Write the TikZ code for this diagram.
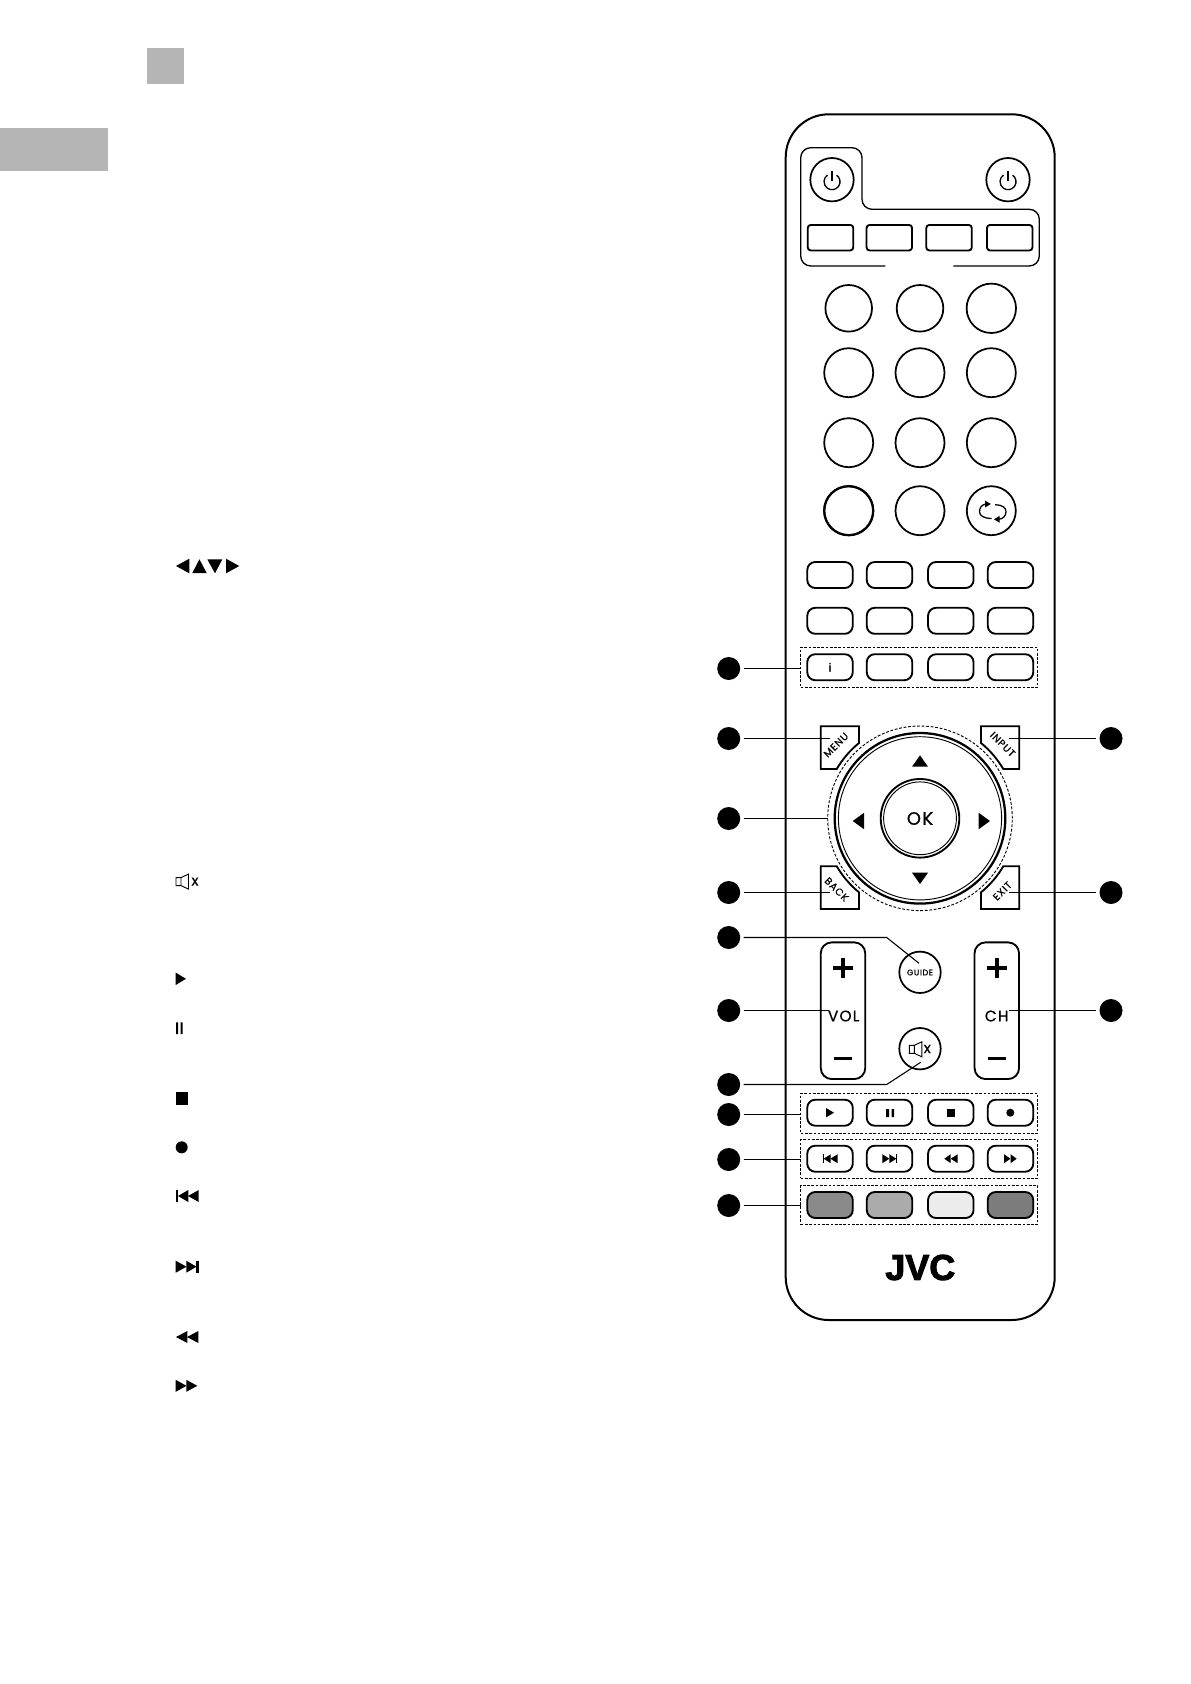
\documentclass[tikz,border=0pt]{standalone}
\usepackage{fontspec}
\usetikzlibrary{arrows.meta,calc}
\newfontfamily\rf{Poppins}[LetterSpace=8,FakeBold=0.7]
\newfontfamily\rfplain{Poppins}[FakeBold=0.4]
\newfontfamily\logofont{Liberation Sans Bold}[FakeBold=2.5]
\newdimen\pxu \pxu=0.75pt
\definecolor{tabgrey}{HTML}{B5B5B5}
\definecolor{c1}{HTML}{8A8A8A}
\definecolor{c2}{HTML}{ABABAB}
\definecolor{c3}{HTML}{ECECEC}
\definecolor{c4}{HTML}{7C7C7C}
\newcommand{\powicon}[2]{\draw[icon] ($(#1,#2)+(4.6,-6.55)$) arc[start angle=55,end angle=-235,radius=8\pxu];\draw[icon] (#1,#2-10.5) -- (#1,#2-0.5);}
\newcommand{\muteicon}[2]{\draw[icon,line width=0.7pt] (#1,#2-4) rectangle (#1+5,#2+4) (#1+5,#2-4) -- (#1+12.5,#2-7.5) -- (#1+12.5,#2+7.5) -- (#1+5,#2+4);}
\newcommand{\tri}[4]{\fill[glyph] (#1,#3-#4) -- (#2,#3) -- (#1,#3+#4) -- cycle;}
\tikzset{
  x=0.75pt,y=-0.75pt,
  body/.style={draw=black,line width=1.5pt,rounded corners=43\pxu},
  outl/.style={draw=black,line width=1pt},
  icon/.style={draw=black,line width=1pt},
  key/.style={draw=black,line width=1.4pt,rectangle,rounded corners=8\pxu,minimum width=45.5\pxu,minimum height=26\pxu,inner sep=0,outer sep=0},
  srckey/.style={key,rounded corners=3\pxu,minimum height=25.5\pxu},
  roundkey/.style={draw=black,line width=1.3pt,circle,inner sep=0,outer sep=0,minimum size=#1*2\pxu},
  dashbox/.style={draw=black,line width=0.75pt,dash pattern=on 2pt off 1.2pt,rectangle,inner sep=0,outer sep=0,minimum width=237\pxu},
  dot/.style={fill=black,circle,inner sep=0,minimum size=23\pxu,outer sep=3.3\pxu},
  lead/.style={draw=black,line width=0.8pt},
  lbl/.style={inner sep=0,outer sep=0},
  cornerkey/.style={draw=black,line width=1.4pt,line join=miter},
  rock/.style={draw=black,line width=1.4pt,rectangle,rounded corners=11\pxu,inner sep=0,outer sep=0,minimum width=44.5\pxu,minimum height=136.7\pxu},
  glyph/.style={fill=black},
}
\begin{document}
\begin{tikzpicture}
\useasboundingbox (0,0) rectangle (1191,1684);
% grey tabs
\fill[tabgrey] (147,48) rectangle (184,84);
\fill[tabgrey] (0,128) rectangle (108,171);
% remote body
\draw[body] (785.7,114.3) rectangle (1054.7,1320);
% power group outline
\draw[outl,rounded corners=10\pxu] (885.3,266) -- (800.7,266) -- (800.7,147.7) -- (862,147.7) -- (862,209.3) -- (1039.3,209.3) -- (1039.3,266) -- (953.3,266);
% power buttons
\node[roundkey=21.7] (pow1) at (832,179.7) {};
\node[roundkey=21.7] (pow2) at (1008,179.7) {};
\powicon{832}{181.7}
\powicon{1008}{181.7}
% source buttons
\foreach \n/\cx in {1/830.5,2/889.3,3/949,4/1009.7}{\node[srckey] (src\n) at (\cx,237.7) {};}
% digits
\node[roundkey=23.3] (r11) at (848.7,308.3) {};
\node[roundkey=23.3] (r12) at (920,308.3) {};
\node[roundkey=24.7] (r13) at (991.3,308.3) {};
\foreach \i/\yy in {2/372.7,3/442.7,4/510.7}{
  \node[roundkey=24.5] (r\i1) at (848.7,\yy) {};
  \node[roundkey=24.5] (r\i2) at (920,\yy) {};
  \node[roundkey=24.5] (r\i3) at (991.3,\yy) {};
}
\node[roundkey=24.5,line width=1.7pt] (r41b) at (848.7,510.7) {};
\draw[line width=0.95pt] (986,504) .. controls (981.5,504.5) and (979.5,508) .. (979.5,511.7) .. controls (979.5,516) and (984,518.3) .. (991.7,518.5);
\draw[line width=0.95pt] (995,504.8) .. controls (1003,504.8) and (1006,508) .. (1006,511.7) .. controls (1006,516) and (1003,519) .. (998.5,519.3);
\fill[glyph] (985,500.5) -- (990.8,504) -- (985,507.5) -- cycle;
\fill[glyph] (999.7,515.8) -- (994,519.3) -- (999.7,522.8) -- cycle;
% key rows
\foreach \rw/\yy in {a/575,b/620.8,c/667.2,d/1112.7,e/1158.7}{
  \foreach \n/\cx in {1/830,2/889.5,3/950.8,4/1010.5}{
    \node[key] (k\rw\n) at (\cx,\yy) {};
  }
}
\node[lbl,font=\rfplain\fontsize{8.5}{9}\selectfont] (itext) at (830,667.2) {i};
\foreach \n/\cx/\col in {1/830/c1,2/889.5/c2,3/950.8/c3,4/1010.5/c4}{
  \node[key,fill=\col] (kf\n) at (\cx,1205) {};
}
% dashed group boxes
\node[dashbox,minimum height=40\pxu] (boxinfo) at (919.2,667.3) {};
\node[dashbox,minimum height=40\pxu] (boxplay) at (919.2,1113.3) {};
\node[dashbox,minimum height=39\pxu] (boxskip) at (919.2,1158.8) {};
\node[dashbox,minimum height=38.6\pxu] (boxcolour) at (919.2,1205) {};
% corner keys
\draw[cornerkey] (820.7,726.3) -- (859,726.3) -- (859,743) .. controls (850,750.3) and (842.6,759.1) .. (836.7,769) -- (820.7,769) -- cycle;
\draw[cornerkey] (1019.3,726.3) -- (981,726.3) -- (981,743) .. controls (990,750.3) and (997.4,759.1) .. (1003.3,769) -- (1019.3,769) -- cycle;
\draw[cornerkey] (820.7,909) -- (859,909) -- (859,892.3) .. controls (850,885) and (842.6,876.2) .. (836.7,866.3) -- (820.7,866.3) -- cycle;
\draw[cornerkey] (1019.3,909) -- (981,909) -- (981,892.3) .. controls (990,885) and (997.4,876.2) .. (1003.3,866.3) -- (1019.3,866.3) -- cycle;
\node[lbl,rotate=45,font=\rf\fontsize{7.5}{8}\selectfont] (menu) at (836,745) {MENU};
\node[lbl,rotate=-45,font=\rf\fontsize{7.5}{8}\selectfont] (input) at (1002.7,744.3) {INPUT};
\node[lbl,rotate=-45,font=\rf\fontsize{7.5}{8}\selectfont] (back) at (836.7,889.3) {BACK};
\node[lbl,rotate=45,font=\rf\fontsize{7.5}{8}\selectfont] (exit) at (1002.3,891) {EXIT};
% navigation dial
\node[circle,draw=black,line width=0.7pt,dash pattern=on 2.1pt off 1.3pt,inner sep=0,outer sep=0,minimum size=184.6\pxu] (dialdash) at (920,818.3) {};
\node[roundkey=85.3,line width=1.7pt] (dialout) at (920,818.3) {};
\node[roundkey=81.6,line width=0.7pt] (dialin) at (920,818.3) {};
\node[roundkey=39.3,line width=1.4pt] (okout) at (920,818.3) {};
\node[roundkey=36.4,line width=0.7pt] (okin) at (920,818.3) {};
\node[lbl,font=\rf\fontsize{13.5}{14}\selectfont] (ok) at (920,818.5) {OK};
\fill[glyph] (912,766.7) -- (920,755.3) -- (928,766.7) -- cycle;
\fill[glyph] (912,872.7) -- (920,884) -- (928,872.7) -- cycle;
\tri{864}{852.7}{821}{8.2}
\tri{978.7}{990}{821}{8.2}
% rockers
\node[rock] (vol) at (843,1010.7) {};
\node[rock] (ch) at (996.8,1010.7) {};
\foreach \cx in {843,996.8}{
  \draw[line width=2.9pt] (\cx-10,968.3) -- (\cx+10,968.3) (\cx,958.3) -- (\cx,978.3);
  \draw[line width=2.3pt] (\cx-9,1058.3) -- (\cx+9,1058.3);
}
\node[lbl,font=\rf\fontsize{11.5}{12}\selectfont] (voltext) at (843.7,1016) {VOL};
\node[lbl,font=\rf\fontsize{11.5}{12}\selectfont] (chtext) at (996.7,1016) {CH};
% guide and mute
\node[roundkey=20.7] (guide) at (920,972.3) {};
\node[lbl,font=\rf\fontsize{6}{7}\selectfont] (guidetext) at (920,972.5) {GUIDE};
\node[roundkey=20.7] (mute) at (920,1048.7) {};
\muteicon{909.3}{1049.3}
\node[lbl,font=\rfplain\fontsize{11}{11}\selectfont] (mutex) at (927.3,1049) {x};
% transport glyphs on keys
\tri{826}{834}{1112.7}{4.7}
\fill[glyph] (886,1109) rectangle (889,1117) (891.5,1109) rectangle (894,1117);
\fill[glyph] (947,1109) rectangle (955,1117);
\fill[glyph] (1010.3,1112.7) circle[radius=3pt];
\fill[glyph] (823,1154.2) rectangle (824,1163.2);
\tri{830.7}{823.7}{1158.7}{4.5}
\tri{837.7}{830.3}{1158.7}{4.5}
\tri{882.3}{889.3}{1158.7}{4.5}
\tri{889.3}{896.3}{1158.7}{4.5}
\fill[glyph] (896,1154.2) rectangle (897,1163.2);
\tri{950.7}{944.3}{1158.7}{4.5}
\tri{957.7}{950.7}{1158.7}{4.5}
\tri{1004}{1010.5}{1158.7}{4.5}
\tri{1010.5}{1016.7}{1158.7}{4.5}
% logo
\node[lbl,font=\logofont\fontsize{27}{28}\selectfont] (logo) at (920.3,1267.5) {JVC};
% left legend glyphs
\tri{189.3}{176}{566}{7.3}
\fill[glyph] (192.3,573) -- (199.4,559.3) -- (206.7,573) -- cycle;
\fill[glyph] (207.3,559.3) -- (215,573.3) -- (222.3,559.3) -- cycle;
\tri{226}{239.3}{566}{7.3}
\muteicon{176}{881.6}
\node[lbl,font=\rfplain\fontsize{11}{11}\selectfont] (legendx) at (195,881.6) {x};
\tri{175.7}{186}{978.8}{6.2}
\fill[glyph] (176,1022.3) rectangle (178,1034) (180.5,1022.3) rectangle (182.5,1034);
\fill[glyph] (176,1092) rectangle (188,1105);
\fill[glyph] (181.7,1147.3) circle[radius=4.5pt];
\fill[glyph] (176,1190) rectangle (178.2,1202);
\tri{188.3}{178}{1196}{6}
\tri{198.7}{188}{1196}{6}
\tri{175.7}{186.5}{1266.7}{6}
\tri{186.3}{196.5}{1266.7}{6}
\fill[glyph] (196.3,1260.7) rectangle (199,1272.7);
\tri{187.3}{176}{1337}{6}
\tri{198.3}{187}{1337}{6}
\tri{175.7}{186.5}{1385.8}{6}
\tri{186.3}{197.3}{1385.8}{6}
% callouts
\foreach \n/\yy in {1/668.5,2/738.5,3/818.5,4/892.5,5/937.5,6/1010.5,7/1084.5,8/1114.5,9/1159.5,10/1205.5}{
  \node[dot] (dl\n) at (728.7,\yy) {};
}
\foreach \n/\yy in {1/738.5,2/892.5,3/1010.5}{
  \node[dot] (dr\n) at (1111,\yy) {};
}
\coordinate (endmenu) at (830,738.5);
\coordinate (endback) at (830,892.5);
\coordinate (endvol) at (829.3,1010.5);
\coordinate (endinput) at (1009.3,738.5);
\coordinate (endexit) at (1009.3,892.5);
\coordinate (endch) at (1009.3,1010.5);
\coordinate (bendguide) at (886.7,937.5);
\coordinate (endguide) at (919,963.3);
\coordinate (bendmute) at (886.7,1084.5);
\coordinate (endmute) at (920.7,1062.3);
\draw[lead] (dl1.east) -- (dl1.east -| boxinfo.west);
\draw[lead] (dl2.east) -- (endmenu);
\draw[lead] (dl3.east) -- (dl3.east -| dialdash.west);
\draw[lead] (dl4.east) -- (endback);
\draw[lead] (dl5.east) -- (bendguide) -- (endguide);
\draw[lead] (dl6.east) -- (endvol);
\draw[lead] (dl7.east) -- (bendmute) -- (endmute);
\draw[lead] (dl8.east) -- (dl8.east -| boxplay.west);
\draw[lead] (dl9.east) -- (dl9.east -| boxskip.west);
\draw[lead] (dl10.east) -- (dl10.east -| boxcolour.west);
\draw[lead] (dr1.west) -- (endinput);
\draw[lead] (dr2.west) -- (endexit);
\draw[lead] (dr3.west) -- (endch);
\end{tikzpicture}
\end{document}
